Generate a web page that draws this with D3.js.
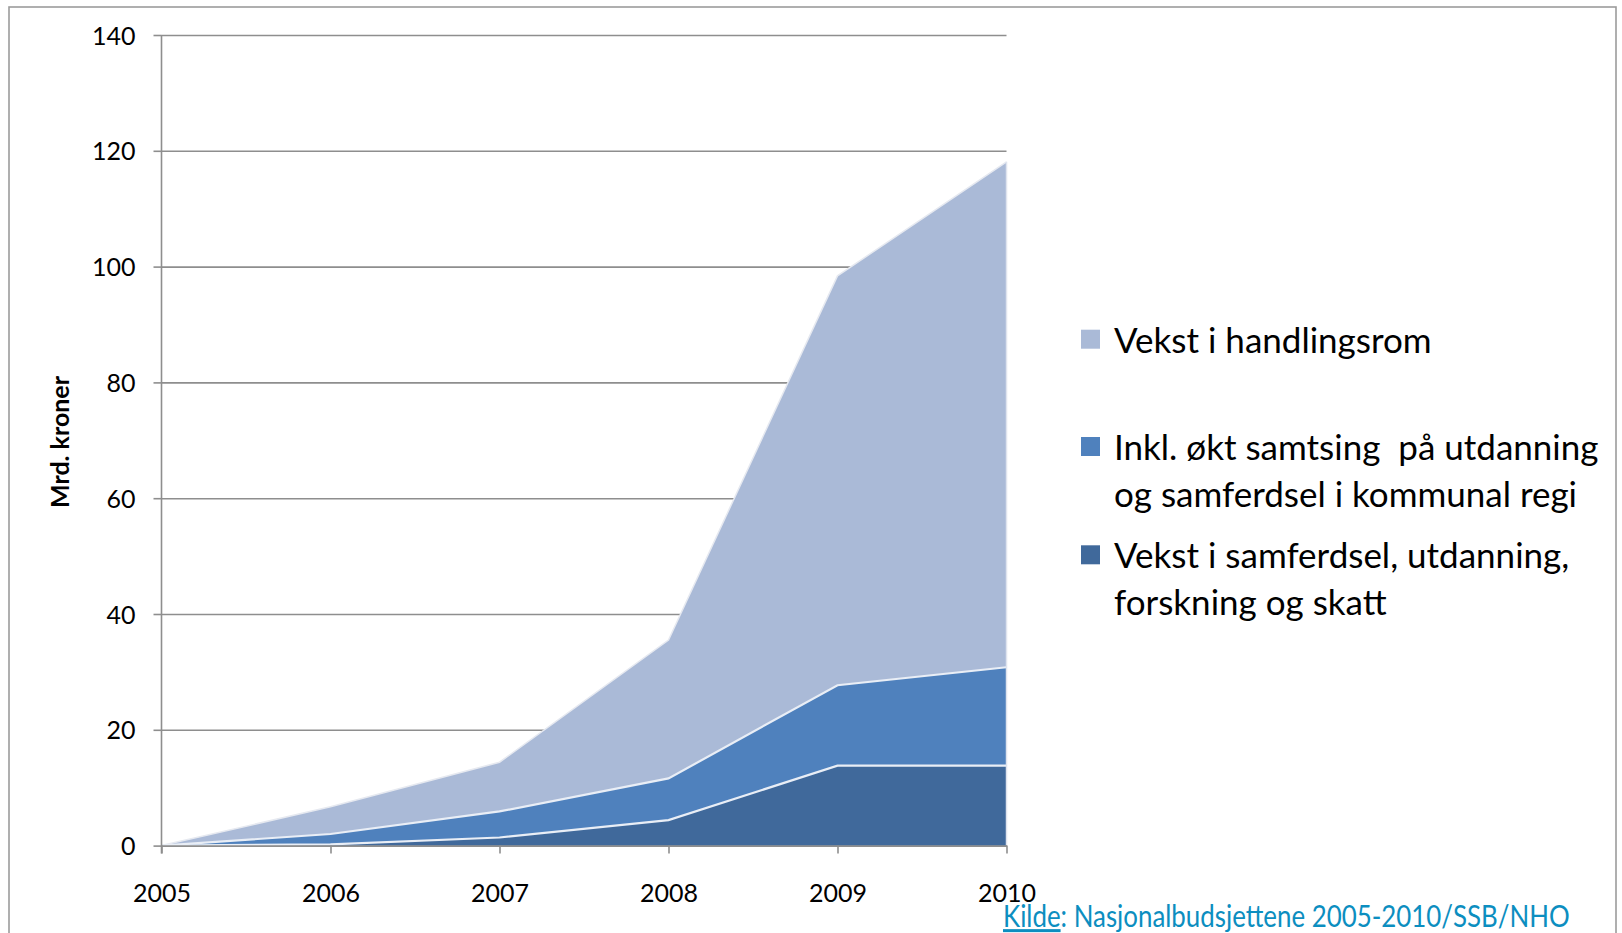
<!DOCTYPE html>
<html>
<head>
<meta charset="utf-8">
<script src="https://cdn.jsdelivr.net/npm/d3@7"></script>
<style>
  html, body { margin: 0; padding: 0; background: #fff; }
  svg { display: block; }
  text { font-family: Lato, "Open Sans", sans-serif; fill: #000; }
</style>
</head>
<body>
<svg id="chart" width="1622" height="933"></svg>
<script>
// values (Mrd. kroner, cumulative per series)
const years = [2005, 2006, 2007, 2008, 2009, 2010]
const handlingsrom = [0, 6.7, 14.4, 35.5, 98.4, 118.1]
const inklKommunal = [0, 2.0, 5.9, 11.6, 27.7, 30.8]
const samferdsel = [0, 0.2, 1.4, 4.4, 13.8, 13.8]
const yTicks = [0, 20, 40, 60, 80, 100, 120, 140]

const seriesNames = [
    ['Vekst i handlingsrom'],
    ['Inkl. økt samtsing  på utdanning', 'og samferdsel i kommunal regi'],
    ['Vekst i samferdsel, utdanning,', 'forskning og skatt']
]
const seriesValues = [handlingsrom, inklKommunal, samferdsel]
const seriesColors = ['#aabad7', '#4f81bd', '#40699b']
const edgeColors = ['#e6e9f0', '#e9eef6', '#e9eef6']

const svg = d3.select('#chart')

// outer frame
svg.append('rect')
    .attr('x', 9).attr('y', 7)
    .attr('width', 1607).attr('height', 960)
    .attr('fill', 'none')
    .attr('stroke', '#9c9c9c')
    .attr('stroke-width', 1.6)

const x = d3.scaleLinear().domain([2005, 2010]).range([161.5, 1006.5])
const y = d3.scaleLinear().domain([0, 140]).range([845.6, 35])

// gridlines + y ticks
const yAxis = d3.axisLeft(y).tickValues(yTicks).tickSize(8).tickPadding(18)
const gy = svg.append('g').attr('transform', `translate(${x(2005)},0)`).call(yAxis)
gy.select('.domain').remove()
gy.selectAll('.tick line').attr('stroke', '#8e8e8e').attr('stroke-width', 1.6)
gy.selectAll('.tick').append('line')
    .attr('x1', 0).attr('x2', x(2010) - x(2005))
    .attr('stroke', '#8e8e8e').attr('stroke-width', 1.6)
gy.selectAll('.tick text')
    .attr('font-family', 'Lato, sans-serif')
    .attr('font-size', 25)
    .attr('fill', '#000')
    .attr('dy', '0.36em')

// areas, drawn back to front, each from zero
const area = d3.area()
    .x((d, i) => x(years[i]))
    .y0(y(0))
    .y1(d => y(d))
const topLine = d3.line()
    .x((d, i) => x(years[i]))
    .y(d => y(d))

seriesValues.forEach((vals, k) => {
    svg.append('path')
        .datum(vals)
        .attr('d', area)
        .attr('fill', seriesColors[k])
    svg.append('path')
        .datum(vals)
        .attr('d', topLine)
        .attr('fill', 'none')
        .attr('stroke', edgeColors[k])
        .attr('stroke-width', k == 0 ? 1.5 : 2.2)
})

// right edge shading of the area block
svg.append('line')
    .attr('x1', x(2010)).attr('x2', x(2010))
    .attr('y1', y(handlingsrom[5])).attr('y2', y(0))
    .attr('stroke', '#dfe4ee').attr('stroke-width', 1.5)

// y axis line
svg.append('line')
    .attr('x1', x(2005)).attr('x2', x(2005))
    .attr('y1', y(140)).attr('y2', y(0) + 8)
    .attr('stroke', '#8e8e8e').attr('stroke-width', 1.6)

// x axis
const xAxis = d3.axisBottom(x).tickValues(years).tickFormat(d3.format('d')).tickSize(8).tickPadding(0).tickSizeOuter(0)
const gx = svg.append('g').attr('transform', `translate(0,${y(0)})`).call(xAxis)
gx.select('.domain').attr('stroke', '#8e8e8e').attr('stroke-width', 1.6)
gx.selectAll('.tick line').attr('stroke', '#8e8e8e').attr('stroke-width', 1.6)
gx.selectAll('.tick text')
    .attr('font-family', 'Lato, sans-serif')
    .attr('font-size', 25)
    .attr('fill', '#000')
    .attr('y', 56)
    .attr('dy', 0)

// y title
svg.append('text')
    .attr('transform', 'translate(69,442) rotate(-90)')
    .attr('text-anchor', 'middle')
    .attr('font-size', 25)
    .attr('font-weight', 'bold')
    .text('Mrd. kroner')

// legend
const legendBase = [352.7, 460, 568.3]
const legend = svg.append('g')
seriesNames.forEach((lines, k) => {
    legend.append('rect')
        .attr('x', 1081).attr('y', legendBase[k] - 13.5 - 9.5)
        .attr('width', 19).attr('height', 19)
        .attr('fill', seriesColors[k])
    const t = legend.append('text')
        .attr('x', 1114).attr('y', legendBase[k])
        .attr('font-size', 35)
        .attr('xml:space', 'preserve')
    lines.forEach((ln, j) => {
        t.append('tspan')
            .attr('x', 1114)
            .attr('y', legendBase[k] + j * 46.7)
            .text(ln)
    })
})

// source line
const src = svg.append('text')
    .attr('x', 0).attr('y', 0)
    .attr('font-family', '"DejaVu Sans Condensed", "DejaVu Sans", sans-serif')
    .attr('font-size', 30)
    .style('fill', '#0c8ec0')
src.append('tspan').style('text-decoration', 'underline').style('fill', '#0c8ec0').text('Kilde')
src.append('tspan').style('fill', '#0c8ec0').text(': Nasjonalbudsjettene 2005-2010/SSB/NHO')
const srcWidth = src.node().getComputedTextLength()
src.attr('transform', `translate(1003,927) scale(${567 / srcWidth},1)`)
</script>
</body>
</html>
